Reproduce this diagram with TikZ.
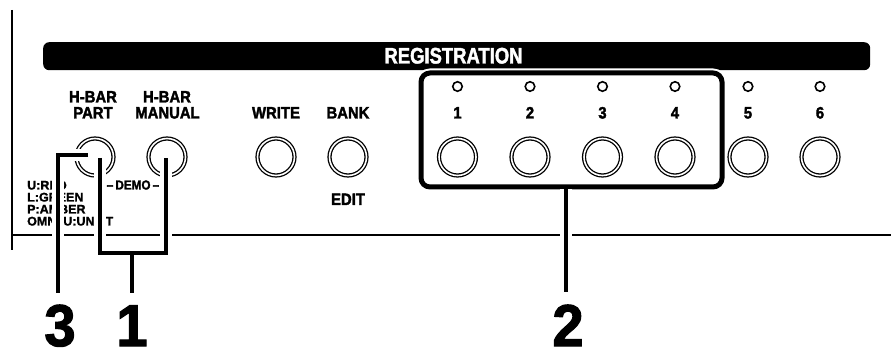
\documentclass[tikz,border=0pt]{standalone}
\usepackage{fontspec}
\setmainfont{Liberation Sans}
\newfontfamily\lbf{Liberation Sans}[FakeStretch=0.9, FakeBold=2]
\newfontfamily\smf{Liberation Sans}[FakeStretch=1.0, FakeBold=1.5]
\newfontfamily\regf{Liberation Sans}[FakeStretch=0.82, FakeBold=1.8]
\newfontfamily\bigf{Liberation Sans}[FakeStretch=0.95, FakeBold=2]
\begin{document}
\begin{tikzpicture}[x=1pt,y=-1pt,
 lab/.style={font=\lbf\bfseries\fontsize{16.5}{16.5}\selectfont, anchor=base, inner sep=0pt},
 small/.style={font=\smf\bfseries\fontsize{12.5}{12.5}\selectfont, anchor=base west, inner sep=0pt},
 big/.style={font=\bigf\bfseries\fontsize{59}{59}\selectfont, anchor=base, inner sep=0pt, text depth=0pt},
 btn/.style={circle, draw, line width=1.3pt, double, double distance=1.6pt, minimum size=37pt, inner sep=0pt, outer sep=0pt},
 led/.style={circle, draw, line width=1.6pt, minimum size=9.5pt, inner sep=0pt},
 leader/.style={line width=4pt, preaction={draw=white, line width=12pt}},
 frame/.style={line width=5pt, rounded corners=9pt, preaction={draw=white, line width=9pt}},
 rule/.style={line width=1.5pt}]
\useasboundingbox (0,0) rectangle (891,352);
% panel rules
\coordinate (vt) at (12,10);
\coordinate (vb) at (12,250);
\coordinate (hl) at (12,235);
\coordinate (hr) at (891,235);
\draw[rule] (vt) -- (vb);
\draw[rule] (hl) -- (hr);
% title bar
\node[fill=black, rounded corners=6pt, minimum width=827pt, minimum height=28pt, inner sep=0pt, anchor=north west] (bar) at (43,42) {};
\node[font=\regf\bfseries\fontsize{22.5}{22.5}\selectfont, text=white, anchor=base, inner sep=0pt] (reg) at (453.5,63.5) {REGISTRATION};
% labels
\node[lab] (t-hb1) at (93,102.5) {H-BAR};
\node[lab] (t-part) at (93,118.5) {PART};
\node[lab] (t-hb2) at (167,102.5) {H-BAR};
\node[lab] (t-man) at (167.5,118.5) {MANUAL};
\node[lab] (t-write) at (276,118.5) {WRITE};
\node[lab] (t-bank) at (348,118.5) {BANK};
\node[lab] (t-edit) at (348,205) {EDIT};
\foreach \i/\x in {1/457.5,2/530,3/602.5,4/675,5/748,6/820}{
  \node[lab] (t\i) at (\x,118.5) {\i};
  \node[led] (l\i) at (\x,86.5) {};
  \node[btn] (b\i) at (\x,157) {};
}
% buttons
\node[btn] (b-part) at (95,157) {};
\node[btn] (b-man) at (167,157) {};
\node[btn] (b-write) at (276,157) {};
\node[btn] (b-bank) at (348,157) {};
% small legend
\node[small] (u) at (27,189.5) {U:RED};
\node[small] (lg) at (27,201.5) {L:GREEN};
\node[small] (p) at (27,213.5) {P:AMBER};
\node[small] (o) at (27,225.5) {OMNI U:UNLIT};
\node[font=\lbf\bfseries\fontsize{13}{13}\selectfont, anchor=base, inner sep=0pt] (demo) at (133,189.5) {–\,DEMO\,–};
% highlight frame
\draw[frame] (421,73) rectangle (722,187);
% numbers
\node[big] (d3) at (60,346) {3};
\node[big] (d1) at (132,346) {1};
\node[big] (d2) at (568,346) {2};
% leaders
\coordinate (c3a) at (88,155);
\coordinate (c3b) at (58,155);
\coordinate (c3c) at (58,293);
\draw[leader] (c3a) -- (c3b) -- (c3c);
\coordinate (c1a) at (100,158);
\coordinate (c1b) at (100,253);
\coordinate (c1c) at (166,253);
\coordinate (c1d) at (166,158);
\coordinate (c1e) at (132,253);
\coordinate (c1f) at (132,293);
\draw[leader] (c1a) -- (c1b) -- (c1c) -- (c1d) (c1e) -- (c1f);
\coordinate (c2a) at (565.5,189.5);
\coordinate (c2b) at (565.5,292);
\draw[leader] (c2a) -- (c2b);
\end{tikzpicture}
\end{document}
